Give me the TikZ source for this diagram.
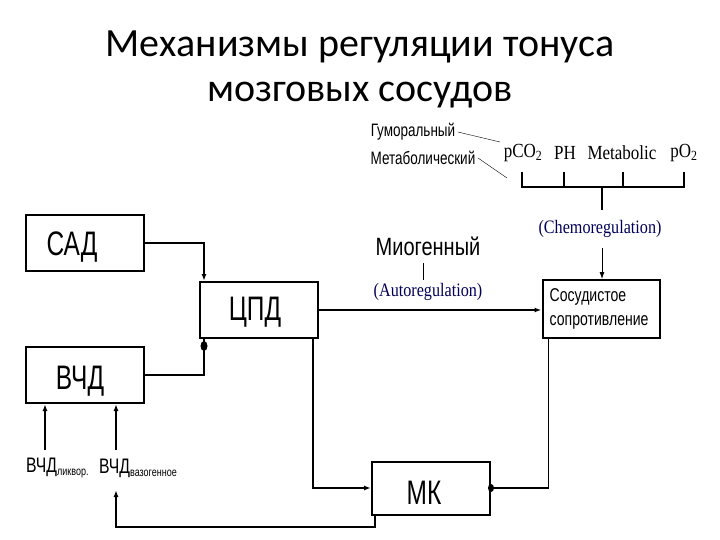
\documentclass[tikz,border=0pt]{standalone}
\usepackage{fontspec}
\usetikzlibrary{arrows.meta}
\setmainfont{Liberation Sans}
\newfontfamily\titlef{Carlito}
\newfontfamily\serf{Liberation Serif}
\begin{document}
\begin{tikzpicture}[x=1pt,y=-1pt,
  box/.style={draw,line width=2pt,minimum width=118pt,minimum height=56pt,inner sep=0pt},
  lbl/.style={font=\fontsize{34}{34}\selectfont,xscale=0.72},
  ln/.style={line width=1.5pt},
  arr/.style={ln,-{Latex[length=7pt,width=5pt]}},
  ser/.style={font=\serf\fontsize{19}{19}\selectfont,text=black!65!blue,xscale=0.85},
  small/.style={font=\fontsize{18}{18}\selectfont,xscale=0.75}]
\useasboundingbox (0,0) rectangle (720,540);
\node[font=\titlef\fontsize{40}{40}\selectfont] (t1) at (360,47) {Механизмы регуляции тонуса};
\node[font=\titlef\fontsize{40}{40}\selectfont] (t2) at (360,95) {мозговых сосудов};
\node[box] (sad) at (85,243) {};
\node[lbl] at (72,247) {САД};
\node[box] (cpd) at (259,310) {};
\node[lbl] at (255,312) {ЦПД};
\node[box] (vchd) at (85,375) {};
\node[lbl] at (80,381) {ВЧД};
\node[box,minimum height=53pt] (mk) at (431,488) {};
\node[lbl] at (424,493) {МК};
\node[box,minimum width=117pt,minimum height=58pt] (ss) at (601,309) {};
\node[font=\fontsize{18.5}{24}\selectfont,xscale=0.76,align=left,anchor=west] (sst) at (547,309) {Сосудистое\\сопротивление};
\draw[arr] (sad.east) -| ([xshift=5pt]cpd.north west);
\draw[ln] (vchd.east) -| ([xshift=5pt]cpd.south west);
\fill ([xshift=5pt,yshift=-7pt]cpd.south west) ellipse (3.5pt and 5pt);
\coordinate (a1) at (45,450); \coordinate (a2) at (116,450);
\draw[arr] (a1) -- (a1 |- vchd.south);
\draw[arr] (a2) -- (a2 |- vchd.south);
\node[anchor=west,font=\fontsize{21}{21}\selectfont,xscale=0.75,inner sep=0pt] (l1) at (26,468) {ВЧД\textsubscript{\fontsize{12}{12}\selectfont ликвор.}};
\node[anchor=west,font=\fontsize{21}{21}\selectfont,xscale=0.75,inner sep=0pt] (l2) at (99,468) {ВЧД\textsubscript{\fontsize{12}{12}\selectfont вазогенное}};
\coordinate (a3) at (116,490);
\coordinate (fb) at (116,527);
\draw[arr] ([xshift=4pt]mk.south west) |- (fb) -- (a3);
\draw[arr] ([xshift=-6pt]cpd.south east) |- (mk.west);
\draw[arr] (cpd.east) -- (cpd.east -| ss.west);
\draw[ln] (mk.east) -| ([xshift=7pt]ss.south west);
\fill (mk.east) ellipse (3pt and 4pt);
\node[font=\fontsize{25}{25}\selectfont,xscale=0.8] (mio) at (428,246) {Миогенный};
\node[ser] (auto) at (428,292) {(Autoregulation)};
\draw[thin] (423,263) -- (423,280);
\node[small] (hum) at (413,132) {Гуморальный};
\node[small] (met) at (423,158) {Метаболический};
\node[ser,text=black,font=\serf\fontsize{20}{20}\selectfont] (p1) at (523,153) {pCO\textsubscript{2}};
\node[ser,text=black,font=\serf\fontsize{20}{20}\selectfont] (p2) at (565,153) {PH};
\node[ser,text=black,font=\serf\fontsize{20}{20}\selectfont] (p3) at (622,153) {Metabolic};
\node[ser,text=black,font=\serf\fontsize{20}{20}\selectfont] (p4) at (684,153) {pO\textsubscript{2}};
\draw[thin] (hum.east) -- (500,142);
\draw[thin] (met.east) -- (507,178);
\draw[ln] (522,172) -- (522,187) -- (684,187) -- (684,172);
\draw[ln] (564,172) -- (564,187); \draw[ln] (623,172) -- (623,187);
\draw[ln] (602,187) -- (602,210);
\node[ser] (chem) at (600,229) {(Chemoregulation)};
\coordinate (c1) at (602,248);
\draw[arr,line width=0.8pt] (c1) -- (c1 |- ss.north);
\end{tikzpicture}
\end{document}
